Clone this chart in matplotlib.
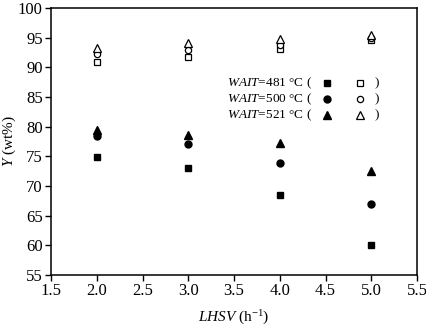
import matplotlib.pyplot as plt
from matplotlib.ticker import MultipleLocator

plt.rcParams['font.family'] = ['Liberation Serif', 'DejaVu Serif']
plt.rcParams['mathtext.fontset'] = 'custom'
plt.rcParams['mathtext.rm'] = 'Liberation Serif'
plt.rcParams['mathtext.it'] = 'Liberation Serif:italic'

## data
lhsv = [2.0, 3.0, 4.0, 5.0]
temps = ['481', '500', '521']
# filled symbols (lower group)
y_low_481 = [74.9, 73.0, 68.5, 60.0]
y_low_500 = [78.4, 77.1, 73.8, 67.0]
y_low_521 = [79.5, 78.6, 77.2, 72.6]
# open symbols (upper group)
y_high_481 = [90.9, 91.7, 93.1, 94.6]
y_high_500 = [92.2, 92.9, 93.7, 95.0]
y_high_521 = [93.3, 94.1, 94.7, 95.5]

markers = ['s', 'o', '^']
ms_fill = [4.3, 5.0, 5.5]
ms_open = [4.0, 4.5, 5.2]
lows = [y_low_481, y_low_500, y_low_521]
highs = [y_high_481, y_high_500, y_high_521]

fig = plt.figure(figsize=(4.27, 3.26), dpi=100)
ax = fig.add_axes([51/427, 1-275/326, 366/427, 267/326])

for m, mf, mo, yl, yh in zip(markers, ms_fill, ms_open, lows, highs):
    ax.plot(lhsv, yl, m, color='k', markersize=mf, linestyle='none')
    ax.plot(lhsv, yh, m, markerfacecolor='white', markeredgecolor='k',
            markeredgewidth=0.9, markersize=mo, linestyle='none')

## legend built by hand
rows_y = [0.719, 0.659, 0.599]
for t, m, mf, mo, yy in zip(temps, markers, ms_fill, ms_open, rows_y):
    ax.text(0.713, yy, r'$\it{WAIT}$=' + t + ' \u00b0C (', transform=ax.transAxes,
            ha='right', va='center', fontsize=9.5)
    ax.plot([0.754], [yy], m, color='k', markersize=mf, transform=ax.transAxes)
    ax.plot([0.844], [yy], m, markerfacecolor='white', markeredgecolor='k',
            markeredgewidth=0.9, markersize=mo, transform=ax.transAxes)
    ax.text(0.885, yy, ')', transform=ax.transAxes, ha='left', va='center',
            fontsize=9.5)

ax.set_xlim(1.5, 5.5)
ax.set_ylim(55, 100)
ax.xaxis.set_major_locator(MultipleLocator(0.5))
ax.yaxis.set_major_locator(MultipleLocator(5))
ax.xaxis.set_major_formatter(plt.FormatStrFormatter('%.1f'))
ax.tick_params(which='major', direction='out', length=4, width=1, labelsize=12,
               pad=2)
for s in ax.spines.values():
    s.set_linewidth(1.1)

ax.set_xlabel(r'$\it{LHSV}$ (h$^{-1}$)', fontsize=11, labelpad=7)
ax.set_ylabel(r'$\it{Y}$ (wt%)', fontsize=11, labelpad=0)

fig.savefig('out.png', dpi=100)
